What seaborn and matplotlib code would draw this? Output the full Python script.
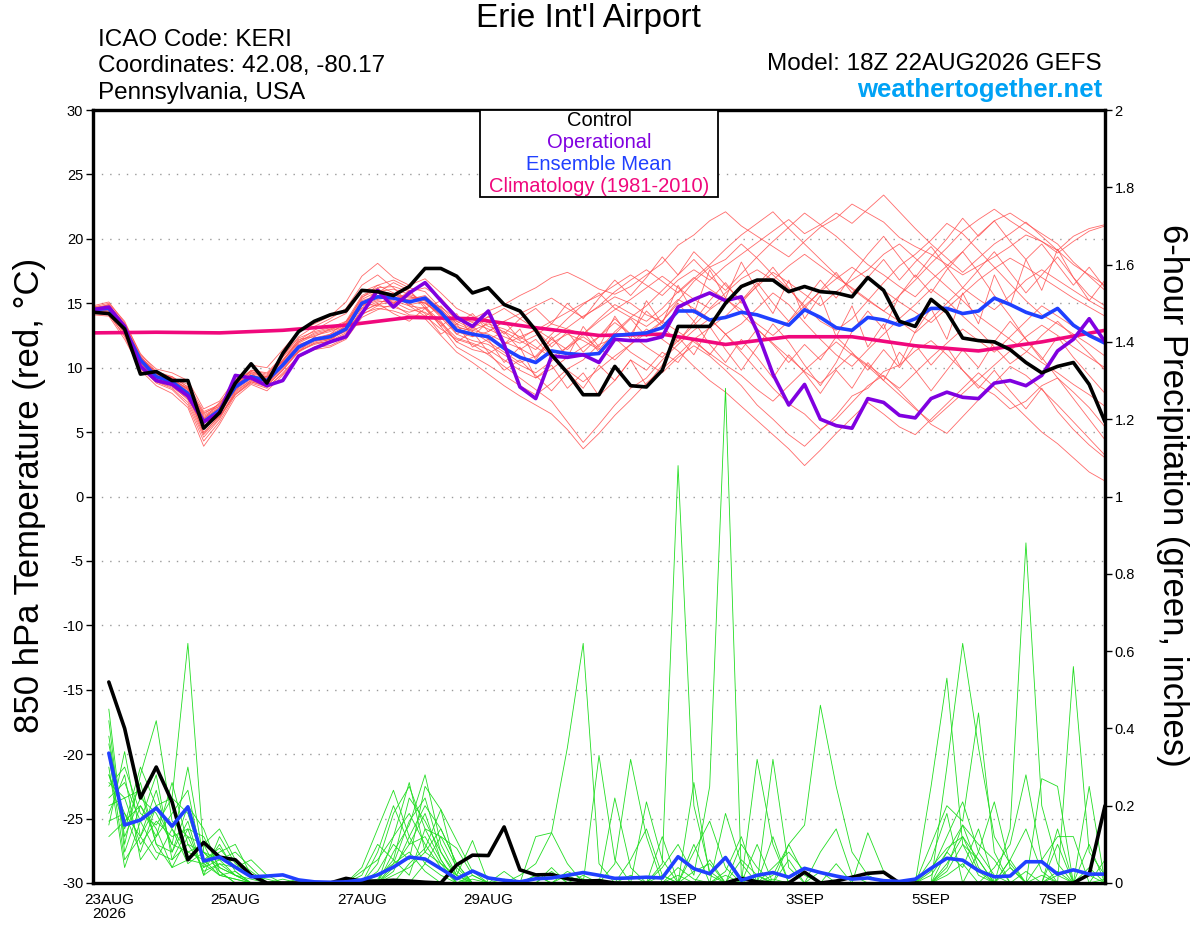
import numpy as np
import pandas as pd
import matplotlib
matplotlib.use("Agg")
import matplotlib.pyplot as plt
from matplotlib.patches import Rectangle
import seaborn as sns

# forecast hours from 18Z 22AUG2026, 6-hourly
temp_hours = np.arange(0, 385, 6)
precip_hours = np.arange(6, 385, 6)

control_temp = [14.3, 14.2, 13.0, 9.5, 9.7, 9.0, 9.0, 5.3, 6.5, 8.8, 10.3, 8.8, 11.1,
                12.8, 13.6, 14.1, 14.4, 16.0, 15.9, 15.6, 16.3, 17.7, 17.7, 17.1, 15.8, 16.2,
                14.9, 14.4, 12.9, 11.0, 9.6, 7.9, 7.9, 10.1, 8.6, 8.5, 9.8, 13.2, 13.2,
                13.2, 15.0, 16.3, 16.8, 16.8, 15.9, 16.3, 15.9, 15.8, 15.5, 17.0, 16.0, 13.6,
                13.2, 15.3, 14.3, 12.3, 12.1, 12.0, 11.4, 10.4, 9.6, 10.1, 10.4, 8.7, 5.8]

oper_temp = [14.5, 14.7, 13.2, 10.1, 9.0, 8.7, 7.8, 5.8, 6.5, 9.4, 9.2, 8.6, 9.0,
             10.9, 11.5, 12.0, 12.4, 14.2, 16.0, 14.7, 15.8, 16.6, 15.2, 13.9, 13.2, 14.4,
             11.8, 8.5, 7.6, 10.9, 10.8, 11.0, 10.4, 12.2, 12.1, 12.1, 12.4, 14.7, 15.3,
             15.8, 15.2, 15.5, 12.8, 9.5, 7.1, 8.7, 6.0, 5.5, 5.3, 7.6, 7.3, 6.3,
             6.1, 7.6, 8.1, 7.7, 7.6, 8.8, 9.0, 8.6, 9.4, 11.3, 12.2, 13.8, 12.0]

mean_temp = [14.5, 14.6, 13.0, 10.6, 9.3, 8.9, 8.0, 5.8, 6.7, 8.5, 9.3, 9.0, 10.2,
             11.6, 12.2, 12.4, 13.0, 15.0, 15.5, 15.4, 15.1, 15.4, 14.3, 12.9, 12.6, 12.4,
             11.5, 10.8, 10.4, 11.3, 11.1, 11.0, 11.1, 12.5, 12.6, 12.7, 13.1, 14.4, 14.4,
             13.7, 13.9, 14.3, 14.1, 13.7, 13.3, 14.5, 13.9, 13.1, 12.9, 13.9, 13.7, 13.3,
             13.8, 14.6, 14.6, 14.2, 14.4, 15.4, 14.9, 14.3, 13.9, 14.6, 13.3, 12.5, 11.9]

# daily climatology (18Z)
clim_hours = np.arange(0, 385, 24)
clim_temp = [12.7, 12.75, 12.7, 12.9, 13.3, 13.9, 13.8, 13.1, 12.5, 12.6, 11.8,
             12.4, 12.4, 11.7, 11.3, 12.0, 12.9]

member_temp = [
    [14.6, 14.9, 13.4, 10.9, 9.6, 9.2, 8.7, 6.6, 7.1, 8.9, 9.8, 9.5, 10.8,
     12.1, 12.9, 13.6, 14.2, 15.9, 16.4, 15.8, 15.2, 15.0, 14.1, 13.6, 13.8, 14.4,
     14.9, 15.6, 16.2, 17.0, 17.4, 16.8, 16.1, 15.7, 16.3, 17.2, 18.1, 19.5, 20.3,
     21.4, 22.1, 21.0, 20.2, 19.4, 18.6, 19.8, 20.9, 21.6, 22.7, 22.0, 21.3, 20.1,
     19.4, 18.8, 18.0, 17.2, 17.9, 18.6, 19.4, 20.3, 19.8, 19.1, 20.2, 20.8, 21.1],
    [14.2, 14.4, 12.6, 10.2, 8.9, 8.4, 7.3, 4.6, 6.0, 8.1, 9.0, 8.6, 9.8,
     11.2, 11.9, 12.0, 12.6, 14.6, 15.1, 15.2, 14.8, 14.6, 13.2, 11.6, 10.9, 10.2,
     9.4, 8.6, 7.9, 8.8, 9.9, 10.6, 11.8, 12.3, 11.2, 10.4, 9.6, 10.8, 11.7,
     10.9, 9.8, 8.6, 7.1, 6.0, 4.8, 3.9, 5.1, 6.3, 7.8, 8.4, 9.7, 10.2,
     11.3, 12.1, 11.0, 9.8, 8.6, 7.9, 6.8, 7.4, 8.6, 9.2, 8.1, 6.9, 5.4],
    [14.4, 14.7, 13.1, 10.6, 9.4, 9.1, 8.4, 6.2, 6.9, 8.6, 9.6, 9.3, 10.6,
     12.0, 12.6, 12.9, 13.5, 15.4, 16.4, 16.8, 16.2, 15.9, 14.6, 13.2, 12.8, 12.0,
     11.2, 10.4, 10.9, 12.2, 13.1, 14.0, 14.7, 15.5, 15.0, 14.1, 13.6, 15.2, 16.7,
     17.8, 18.4, 19.6, 18.5, 17.2, 16.1, 14.8, 13.6, 12.9, 13.8, 15.2, 16.6, 17.9,
     18.8, 19.9, 21.2, 20.4, 19.1, 17.8, 16.5, 15.2, 14.1, 13.4, 12.6, 11.8, 10.9],
    [14.3, 14.2, 12.4, 9.8, 8.6, 8.0, 6.9, 3.9, 5.6, 7.7, 8.7, 8.2, 9.4,
     10.8, 11.4, 11.6, 12.2, 13.9, 14.5, 14.9, 14.1, 14.0, 13.0, 12.2, 11.8, 11.0,
     10.1, 9.2, 8.3, 7.4, 5.8, 4.2, 5.6, 7.1, 8.4, 9.2, 10.6, 11.8, 12.9,
     13.8, 12.6, 11.2, 9.8, 8.4, 7.2, 6.4, 5.2, 6.0, 7.3, 8.6, 9.4, 8.2,
     6.9, 5.6, 4.9, 6.2, 7.5, 8.8, 10.1, 9.4, 8.3, 7.1, 5.8, 4.5, 3.2],
    [14.7, 15.0, 13.6, 11.0, 9.9, 9.6, 9.0, 6.8, 7.4, 9.1, 10.2, 10.0, 11.4,
     12.8, 13.4, 14.0, 15.1, 17.1, 18.1, 17.0, 16.4, 16.9, 15.8, 14.6, 14.0, 13.2,
     12.8, 12.1, 11.4, 12.6, 13.8, 14.9, 15.8, 14.6, 13.9, 14.8, 16.0, 17.2, 18.4,
     17.1, 16.0, 17.3, 18.6, 19.8, 20.9, 22.0, 21.1, 20.2, 19.1, 18.0, 17.2, 16.3,
     15.5, 16.8, 17.9, 19.0, 20.3, 21.4, 22.0, 21.2, 20.4, 19.6, 18.2, 17.1, 16.0],
    [14.5, 14.5, 12.9, 10.4, 9.0, 8.7, 7.8, 5.3, 6.4, 8.3, 9.1, 8.8, 10.0,
     11.4, 12.0, 12.3, 12.8, 14.8, 15.2, 15.0, 15.3, 15.6, 14.5, 13.4, 12.9, 12.6,
     12.0, 11.5, 10.8, 11.9, 12.6, 12.1, 11.4, 12.8, 13.9, 13.2, 14.1, 15.3, 14.6,
     13.8, 12.6, 13.4, 14.6, 15.8, 14.9, 13.5, 12.2, 11.0, 10.1, 11.4, 12.6, 13.8,
     14.9, 16.1, 15.2, 14.0, 12.9, 11.6, 10.3, 11.2, 12.5, 13.6, 12.4, 11.1, 9.8],
    [14.1, 14.0, 12.2, 9.9, 8.9, 8.5, 7.6, 5.5, 6.2, 7.9, 8.8, 8.4, 9.6,
     10.9, 11.6, 11.9, 12.4, 14.2, 14.6, 14.4, 14.0, 13.8, 12.5, 11.2, 10.4, 9.5,
     8.6, 7.8, 7.1, 6.4, 5.2, 3.7, 4.9, 6.3, 7.5, 8.8, 9.9, 11.0, 12.2,
     13.1, 14.0, 15.2, 16.3, 17.4, 16.6, 15.7, 14.8, 15.9, 16.8, 17.6, 18.8, 19.6,
     18.5, 17.4, 16.3, 15.2, 14.0, 13.1, 12.2, 11.3, 10.4, 9.6, 8.7, 7.9, 7.0],
    [14.6, 14.8, 13.3, 10.8, 9.5, 9.0, 8.1, 6.0, 6.9, 8.7, 9.5, 9.3, 10.5,
     11.9, 12.5, 12.8, 13.3, 15.3, 15.9, 16.1, 15.7, 15.2, 14.0, 12.8, 12.4, 12.8,
     13.6, 14.2, 14.8, 15.4, 14.6, 13.9, 14.8, 15.9, 16.8, 17.6, 16.7, 15.8, 16.9,
     18.0, 19.2, 20.3, 21.2, 22.1, 20.8, 19.6, 18.4, 17.2, 16.1, 15.2, 14.4, 15.6,
     16.8, 18.1, 19.3, 20.6, 21.5, 22.3, 21.4, 20.6, 19.8, 18.9, 19.8, 20.6, 21.0],
    [14.4, 14.3, 12.8, 10.5, 9.2, 8.8, 7.9, 5.9, 6.6, 8.4, 9.2, 8.9, 10.1,
     11.5, 12.1, 12.2, 12.9, 14.9, 15.3, 15.5, 14.9, 15.1, 13.9, 12.6, 12.1, 11.8,
     11.0, 10.2, 9.6, 10.5, 11.6, 12.4, 11.5, 10.6, 11.8, 13.0, 12.2, 11.3, 10.1,
     9.0, 8.1, 7.0, 5.9, 4.8, 3.7, 2.4, 3.6, 4.9, 6.1, 7.3, 6.4, 5.4,
     4.8, 6.0, 7.2, 8.4, 9.6, 8.5, 7.4, 6.2, 5.0, 4.1, 3.0, 1.9, 1.2],
    [14.5, 14.6, 13.0, 10.7, 9.4, 9.0, 8.2, 6.1, 6.8, 8.6, 9.4, 9.1, 10.3,
     11.7, 12.3, 12.6, 13.2, 15.2, 15.6, 15.6, 15.4, 15.5, 14.4, 13.1, 12.9, 13.4,
     13.0, 12.4, 12.9, 13.6, 14.3, 15.0, 15.6, 16.4, 17.2, 16.4, 15.6, 16.8, 17.6,
     16.8, 17.9, 18.8, 19.7, 20.6, 21.5, 20.4, 21.1, 22.0, 21.2, 22.3, 23.4, 22.1,
     20.8, 19.6, 18.5, 17.4, 18.5, 19.6, 20.4, 21.3, 20.2, 19.1, 18.0, 17.2, 16.4],
    [14.3, 14.5, 12.9, 10.6, 9.1, 8.6, 7.5, 4.8, 6.1, 8.2, 9.0, 8.7, 9.9,
     11.3, 11.8, 12.1, 12.7, 14.4, 14.9, 15.1, 14.5, 14.3, 13.5, 12.3, 11.9, 11.4,
     10.6, 9.8, 9.2, 9.9, 10.8, 11.6, 12.4, 13.5, 12.6, 11.6, 10.8, 12.1, 13.3,
     14.5, 15.4, 14.2, 13.0, 11.9, 10.8, 9.7, 8.8, 9.9, 11.1, 10.2, 9.3, 8.4,
     9.6, 10.8, 11.9, 13.0, 12.1, 11.2, 12.4, 13.6, 14.8, 14.0, 13.2, 12.6, 12.1],
    [14.8, 15.1, 13.5, 11.1, 9.7, 9.3, 8.5, 6.4, 7.2, 8.8, 9.7, 9.4, 10.9,
     12.3, 12.8, 13.1, 13.6, 15.6, 16.2, 16.3, 15.9, 16.2, 15.4, 14.0, 13.5, 13.0,
     12.4, 11.9, 12.5, 13.4, 13.0, 12.6, 13.8, 14.9, 14.2, 13.6, 14.6, 15.9, 17.0,
     16.1, 15.3, 14.5, 13.4, 12.5, 13.6, 14.8, 15.9, 16.9, 17.8, 16.9, 16.0, 15.1,
     14.3, 13.5, 14.6, 15.7, 16.8, 17.7, 18.5, 17.8, 17.0, 16.2, 15.4, 14.7, 14.0],
    [14.2, 14.1, 12.5, 10.1, 8.8, 8.3, 7.1, 4.3, 5.8, 7.9, 8.9, 8.5, 9.5,
     10.9, 11.6, 11.7, 12.3, 14.1, 14.8, 14.7, 14.3, 14.7, 13.6, 12.0, 11.4, 11.1,
     11.8, 12.4, 11.6, 10.8, 9.8, 8.9, 9.9, 10.9, 11.8, 12.7, 13.6, 12.8, 12.0,
     11.1, 10.2, 9.4, 8.3, 7.4, 8.6, 9.8, 10.9, 12.0, 11.0, 10.1, 9.0, 7.9,
     6.8, 5.8, 6.9, 8.0, 9.1, 10.2, 11.3, 12.4, 13.3, 12.5, 11.6, 10.8, 10.0],
    [14.6, 14.7, 13.2, 10.8, 9.6, 9.2, 8.3, 6.3, 7.0, 8.8, 9.7, 9.2, 10.6,
     12.0, 12.7, 13.0, 13.4, 15.5, 16.0, 15.7, 15.5, 15.2, 14.7, 13.8, 13.6, 13.9,
     14.6, 13.8, 13.0, 12.2, 11.4, 12.6, 13.6, 14.5, 15.3, 16.2, 17.1, 16.2, 15.3,
     14.6, 15.8, 16.9, 17.6, 16.8, 17.9, 18.8, 17.9, 17.0, 16.2, 15.3, 14.4, 13.6,
     12.7, 13.8, 15.0, 16.2, 15.3, 14.5, 15.6, 16.8, 17.6, 16.8, 16.0, 15.2, 14.5],
    [14.4, 14.6, 13.0, 10.4, 9.1, 8.6, 8.0, 5.6, 6.8, 8.2, 9.6, 8.6, 10.4,
     11.2, 12.4, 12.0, 13.4, 14.6, 16.2, 15.0, 16.0, 14.8, 13.2, 14.2, 12.4, 13.6,
     11.8, 13.0, 10.6, 12.4, 10.8, 13.2, 11.6, 14.0, 12.2, 15.2, 13.4, 16.4, 14.2,
     17.6, 15.4, 18.2, 16.0, 14.2, 16.8, 13.8, 15.6, 12.4, 14.8, 11.6, 13.4, 10.2,
     12.8, 14.6, 12.2, 15.8, 13.4, 17.2, 14.8, 18.4, 16.0, 19.2, 17.0, 15.2, 16.8],
    [14.7, 14.8, 13.2, 10.9, 9.5, 9.3, 8.5, 6.0, 7.3, 8.6, 9.8, 9.6, 10.9,
     12.4, 13.2, 13.8, 14.6, 16.4, 17.2, 16.2, 15.0, 14.2, 12.6, 13.4, 11.6, 12.2,
     10.4, 11.6, 9.2, 10.2, 8.4, 9.6, 7.8, 9.0, 10.6, 8.6, 10.2, 12.4, 11.0,
     13.2, 11.4, 9.8, 11.6, 13.4, 12.0, 10.2, 8.6, 10.4, 12.8, 14.4, 13.0, 15.6,
     17.2, 15.8, 17.6, 19.0, 17.4, 15.6, 14.0, 12.2, 10.8, 9.2, 7.6, 6.0, 4.4],
    [14.3, 14.6, 12.8, 10.3, 9.0, 8.8, 8.0, 4.9, 6.3, 8.4, 9.3, 8.9, 10.1,
     11.6, 12.1, 12.6, 13.6, 15.0, 14.8, 15.8, 14.8, 14.0, 14.8, 13.4, 14.2, 12.8,
     13.6, 12.2, 13.0, 11.6, 12.8, 11.2, 12.4, 13.8, 12.6, 14.4, 13.2, 12.0, 13.6,
     11.8, 10.4, 12.2, 10.8, 9.2, 11.0, 9.6, 8.0, 9.8, 8.4, 10.4, 9.0, 11.2,
     9.8, 8.2, 9.8, 11.4, 10.0, 12.0, 13.6, 12.2, 10.6, 12.4, 10.8, 9.4, 8.0],
    [14.5, 14.9, 13.3, 10.7, 9.6, 9.0, 8.4, 6.5, 7.0, 8.7, 9.4, 9.2, 10.5,
     12.2, 12.4, 13.0, 13.0, 14.8, 15.8, 16.6, 16.0, 14.6, 15.2, 13.6, 13.0, 14.0,
     12.6, 13.8, 14.6, 13.4, 15.0, 13.8, 15.4, 16.8, 15.6, 17.0, 18.6, 17.2, 19.0,
     17.8, 16.4, 15.2, 16.6, 15.0, 13.6, 15.2, 16.8, 15.4, 17.2, 18.8, 20.2, 18.6,
     17.0, 18.6, 20.0, 21.6, 20.2, 21.4, 19.8, 18.4, 19.6, 18.0, 16.4, 17.8, 16.2],
    [14.2, 14.3, 12.7, 10.3, 9.3, 8.7, 7.7, 5.0, 6.2, 8.0, 8.9, 8.6, 9.8,
     11.3, 11.9, 12.2, 12.9, 14.3, 15.0, 14.2, 13.6, 14.6, 13.4, 12.0, 12.8, 11.2,
     9.8, 10.6, 9.4, 8.2, 9.6, 8.4, 10.2, 9.0, 10.6, 9.8, 11.2, 10.4, 12.2,
     11.0, 12.6, 11.4, 13.0, 11.8, 10.4, 11.8, 10.6, 12.4, 11.2, 9.8, 11.4, 10.0,
     11.8, 10.2, 11.6, 9.8, 8.4, 9.8, 8.2, 6.8, 8.4, 6.6, 5.2, 4.0, 3.0],
    [14.6, 14.4, 12.9, 10.5, 9.2, 9.0, 8.3, 5.7, 6.6, 8.5, 9.3, 9.0, 10.4,
     11.8, 12.2, 12.5, 13.1, 15.1, 15.4, 15.3, 15.6, 15.0, 14.2, 12.6, 13.2, 12.2,
     12.8, 11.4, 12.2, 10.8, 11.6, 12.8, 11.2, 12.6, 13.8, 12.4, 13.6, 15.0, 13.6,
     15.2, 16.6, 15.0, 16.4, 17.8, 16.2, 14.6, 16.0, 17.4, 15.8, 17.0, 18.4, 16.8,
     18.2, 19.4, 17.8, 16.2, 17.6, 19.0, 17.4, 15.8, 17.2, 18.6, 17.0, 15.6, 14.8],
]

control_precip = [0.52, 0.40, 0.22, 0.30, 0.21, 0.06, 0.105, 0.067, 0.06, 0.02, 0.0, 0.0, 0.0, 0.0, 0.0, 0.012,
                  0.005, 0.005, 0.007, 0.005, 0.002, 0.0, 0.047, 0.072, 0.071, 0.145, 0.034, 0.021, 0.022, 0.011, 0.005, 0.006,
                  0.0, 0.0, 0.0, 0.0, 0.0, 0.0, 0.0, 0.0, 0.012, 0.003, 0.0, 0.0, 0.028, 0.0, 0.005, 0.015,
                  0.025, 0.028, 0.0, 0.0, 0.0, 0.0, 0.0, 0.0, 0.0, 0.0, 0.0, 0.0, 0.0, 0.0, 0.022, 0.20]

mean_precip = [0.336, 0.15, 0.163, 0.194, 0.147, 0.197, 0.057, 0.067, 0.041, 0.016, 0.018, 0.021, 0.008, 0.003, 0.002, 0.003,
               0.008, 0.021, 0.041, 0.067, 0.062, 0.037, 0.011, 0.031, 0.013, 0.007, 0.003, 0.011, 0.013, 0.02, 0.027, 0.02,
               0.012, 0.013, 0.015, 0.013, 0.068, 0.037, 0.024, 0.066, 0.007, 0.02, 0.027, 0.015, 0.038, 0.027, 0.018, 0.01,
               0.013, 0.006, 0.004, 0.01, 0.038, 0.064, 0.059, 0.032, 0.016, 0.018, 0.055, 0.055, 0.023, 0.034, 0.023, 0.023]

member_precip = [
    [0.38, 0.12, 0.22, 0.18, 0.10, 0.30, 0.06, 0.09, 0.04, 0.02, 0.01, 0.0, 0.0, 0.0, 0.0, 0.0,
     0.0, 0.02, 0.05, 0.08, 0.03, 0.0, 0.0, 0.01, 0.0, 0.0, 0.0, 0.02, 0.0, 0.0, 0.0, 0.01,
     0.0, 0.0, 0.0, 0.04, 0.10, 0.02, 0.25, 1.28, 0.02, 0.0, 0.01, 0.0, 0.0, 0.0, 0.0, 0.0,
     0.0, 0.0, 0.0, 0.0, 0.0, 0.02, 0.05, 0.0, 0.0, 0.0, 0.03, 0.0, 0.0, 0.0, 0.0, 0.01],
    [0.45, 0.10, 0.28, 0.42, 0.16, 0.12, 0.03, 0.05, 0.02, 0.0, 0.0, 0.01, 0.0, 0.0, 0.0, 0.0,
     0.03, 0.06, 0.12, 0.18, 0.10, 0.04, 0.0, 0.02, 0.0, 0.0, 0.0, 0.0, 0.0, 0.03, 0.01, 0.0,
     0.0, 0.02, 0.0, 0.05, 1.08, 0.20, 0.03, 0.0, 0.0, 0.02, 0.0, 0.0, 0.0, 0.03, 0.0, 0.0,
     0.0, 0.0, 0.0, 0.0, 0.02, 0.08, 0.15, 0.04, 0.0, 0.0, 0.0, 0.02, 0.0, 0.0, 0.04, 0.0],
    [0.28, 0.18, 0.12, 0.20, 0.22, 0.62, 0.08, 0.04, 0.02, 0.0, 0.0, 0.0, 0.0, 0.0, 0.0, 0.0,
     0.0, 0.0, 0.04, 0.10, 0.12, 0.05, 0.0, 0.0, 0.0, 0.0, 0.02, 0.05, 0.13, 0.35, 0.62, 0.05,
     0.0, 0.0, 0.0, 0.0, 0.02, 0.0, 0.0, 0.0, 0.0, 0.0, 0.04, 0.08, 0.03, 0.0, 0.0, 0.0,
     0.0, 0.0, 0.0, 0.0, 0.0, 0.03, 0.10, 0.06, 0.0, 0.0, 0.0, 0.0, 0.02, 0.0, 0.0, 0.0],
    [0.36, 0.15, 0.30, 0.20, 0.14, 0.08, 0.10, 0.14, 0.06, 0.03, 0.0, 0.0, 0.0, 0.0, 0.0, 0.0,
     0.0, 0.05, 0.18, 0.25, 0.14, 0.06, 0.0, 0.0, 0.0, 0.01, 0.0, 0.0, 0.03, 0.0, 0.0, 0.0,
     0.0, 0.0, 0.0, 0.0, 0.04, 0.01, 0.0, 0.0, 0.06, 0.02, 0.0, 0.0, 0.0, 0.0, 0.0, 0.0,
     0.0, 0.0, 0.0, 0.0, 0.0, 0.05, 0.12, 0.06, 0.0, 0.14, 0.88, 0.20, 0.05, 0.0, 0.02, 0.0],
    [0.25, 0.30, 0.18, 0.15, 0.22, 0.18, 0.05, 0.08, 0.10, 0.02, 0.0, 0.0, 0.01, 0.0, 0.0, 0.0,
     0.0, 0.0, 0.08, 0.15, 0.28, 0.10, 0.02, 0.0, 0.0, 0.0, 0.0, 0.0, 0.0, 0.0, 0.02, 0.0,
     0.05, 0.32, 0.12, 0.0, 0.0, 0.0, 0.0, 0.03, 0.12, 0.0, 0.0, 0.0, 0.0, 0.0, 0.0, 0.0,
     0.0, 0.0, 0.0, 0.0, 0.0, 0.30, 0.62, 0.35, 0.12, 0.05, 0.0, 0.0, 0.0, 0.0, 0.0, 0.0],
    [0.42, 0.08, 0.20, 0.12, 0.18, 0.24, 0.04, 0.06, 0.08, 0.04, 0.0, 0.0, 0.0, 0.0, 0.0, 0.0,
     0.02, 0.10, 0.06, 0.22, 0.16, 0.08, 0.01, 0.0, 0.0, 0.0, 0.0, 0.0, 0.0, 0.0, 0.0, 0.33,
     0.06, 0.0, 0.0, 0.0, 0.0, 0.0, 0.0, 0.02, 0.0, 0.10, 0.0, 0.0, 0.0, 0.0, 0.0, 0.0,
     0.0, 0.0, 0.0, 0.0, 0.25, 0.53, 0.10, 0.02, 0.0, 0.0, 0.0, 0.0, 0.0, 0.56, 0.08, 0.02],
    [0.20, 0.22, 0.10, 0.16, 0.12, 0.14, 0.12, 0.04, 0.02, 0.01, 0.0, 0.0, 0.0, 0.0, 0.0, 0.0,
     0.0, 0.0, 0.03, 0.12, 0.20, 0.14, 0.05, 0.0, 0.0, 0.0, 0.0, 0.0, 0.0, 0.0, 0.0, 0.0,
     0.0, 0.0, 0.0, 0.0, 0.0, 0.0, 0.0, 0.0, 0.0, 0.0, 0.02, 0.10, 0.15, 0.46, 0.25, 0.08,
     0.02, 0.0, 0.0, 0.0, 0.0, 0.0, 0.0, 0.08, 0.21, 0.04, 0.0, 0.0, 0.0, 0.0, 0.0, 0.0],
    [0.28, 0.14, 0.26, 0.10, 0.08, 0.16, 0.02, 0.12, 0.05, 0.02, 0.0, 0.0, 0.0, 0.0, 0.0, 0.0,
     0.0, 0.03, 0.10, 0.06, 0.25, 0.19, 0.03, 0.0, 0.0, 0.0, 0.0, 0.0, 0.0, 0.0, 0.0, 0.0,
     0.0, 0.0, 0.0, 0.02, 0.0, 0.0, 0.0, 0.0, 0.0, 0.32, 0.10, 0.0, 0.0, 0.0, 0.0, 0.0,
     0.0, 0.0, 0.0, 0.0, 0.0, 0.0, 0.0, 0.0, 0.04, 0.10, 0.28, 0.06, 0.0, 0.0, 0.0, 0.0],
    [0.16, 0.18, 0.08, 0.20, 0.10, 0.08, 0.06, 0.02, 0.03, 0.0, 0.0, 0.0, 0.0, 0.0, 0.0, 0.0,
     0.0, 0.0, 0.0, 0.05, 0.09, 0.19, 0.11, 0.03, 0.0, 0.0, 0.0, 0.0, 0.0, 0.0, 0.0, 0.0,
     0.0, 0.0, 0.0, 0.0, 0.0, 0.26, 0.02, 0.0, 0.0, 0.0, 0.32, 0.04, 0.0, 0.0, 0.0, 0.0,
     0.13, 0.03, 0.0, 0.0, 0.0, 0.0, 0.0, 0.0, 0.0, 0.0, 0.0, 0.27, 0.25, 0.0, 0.25, 0.0],
    [0.22, 0.26, 0.16, 0.08, 0.06, 0.10, 0.08, 0.06, 0.02, 0.0, 0.0, 0.0, 0.0, 0.0, 0.0, 0.0,
     0.0, 0.0, 0.02, 0.04, 0.08, 0.05, 0.02, 0.11, 0.0, 0.0, 0.0, 0.12, 0.13, 0.05, 0.0, 0.0,
     0.0, 0.0, 0.21, 0.06, 0.0, 0.0, 0.0, 0.0, 0.0, 0.0, 0.0, 0.0, 0.0, 0.0, 0.05, 0.0,
     0.0, 0.0, 0.0, 0.0, 0.0, 0.0, 0.0, 0.0, 0.0, 0.06, 0.0, 0.0, 0.10, 0.0, 0.0, 0.06],
    [0.33, 0.06, 0.12, 0.24, 0.08, 0.20, 0.14, 0.03, 0.0, 0.0, 0.0, 0.0, 0.0, 0.0, 0.0, 0.0,
     0.0, 0.01, 0.06, 0.02, 0.14, 0.12, 0.04, 0.0, 0.0, 0.0, 0.0, 0.02, 0.0, 0.0, 0.0, 0.0,
     0.0, 0.0, 0.0, 0.0, 0.0, 0.0, 0.0, 0.0, 0.0, 0.0, 0.0, 0.0, 0.0, 0.0, 0.0, 0.0,
     0.0, 0.0, 0.0, 0.0, 0.10, 0.20, 0.16, 0.44, 0.08, 0.0, 0.0, 0.0, 0.0, 0.0, 0.0, 0.0],
    [0.12, 0.16, 0.20, 0.14, 0.04, 0.12, 0.10, 0.02, 0.01, 0.0, 0.0, 0.0, 0.0, 0.0, 0.0, 0.0,
     0.0, 0.0, 0.0, 0.0, 0.05, 0.12, 0.09, 0.02, 0.0, 0.0, 0.0, 0.0, 0.0, 0.02, 0.0, 0.0,
     0.0, 0.0, 0.0, 0.0, 0.0, 0.03, 0.05, 0.0, 0.0, 0.0, 0.0, 0.0, 0.0, 0.0, 0.0, 0.0,
     0.0, 0.0, 0.0, 0.0, 0.04, 0.09, 0.12, 0.03, 0.0, 0.0, 0.0, 0.06, 0.12, 0.12, 0.0, 0.0],
    [0.18, 0.28, 0.06, 0.12, 0.26, 0.10, 0.04, 0.10, 0.03, 0.0, 0.0, 0.0, 0.0, 0.0, 0.0, 0.0,
     0.0, 0.08, 0.20, 0.10, 0.18, 0.06, 0.0, 0.0, 0.0, 0.0, 0.0, 0.0, 0.0, 0.0, 0.0, 0.0,
     0.0, 0.06, 0.14, 0.02, 0.0, 0.08, 0.16, 0.04, 0.0, 0.0, 0.12, 0.0, 0.0, 0.08, 0.14, 0.02,
     0.0, 0.0, 0.0, 0.0, 0.03, 0.12, 0.21, 0.08, 0.02, 0.0, 0.0, 0.0, 0.0, 0.0, 0.0, 0.0],
    [0.30, 0.04, 0.16, 0.28, 0.06, 0.14, 0.02, 0.05, 0.04, 0.06, 0.02, 0.0, 0.0, 0.0, 0.0, 0.0,
     0.0, 0.0, 0.12, 0.26, 0.08, 0.14, 0.05, 0.0, 0.0, 0.0, 0.0, 0.0, 0.04, 0.0, 0.0, 0.0,
     0.22, 0.04, 0.0, 0.0, 0.0, 0.10, 0.0, 0.18, 0.05, 0.0, 0.0, 0.0, 0.0, 0.0, 0.0, 0.0,
     0.0, 0.0, 0.0, 0.0, 0.0, 0.08, 0.04, 0.14, 0.0, 0.06, 0.14, 0.03, 0.0, 0.0, 0.10, 0.0],
    [0.15, 0.34, 0.12, 0.06, 0.14, 0.05, 0.08, 0.03, 0.0, 0.0, 0.0, 0.0, 0.0, 0.0, 0.0, 0.0,
     0.04, 0.14, 0.24, 0.12, 0.05, 0.02, 0.0, 0.0, 0.0, 0.0, 0.0, 0.0, 0.0, 0.0, 0.0, 0.0,
     0.0, 0.0, 0.0, 0.12, 0.0, 0.0, 0.06, 0.0, 0.0, 0.0, 0.0, 0.10, 0.02, 0.0, 0.0, 0.0,
     0.0, 0.0, 0.0, 0.0, 0.06, 0.18, 0.0, 0.0, 0.0, 0.04, 0.0, 0.0, 0.14, 0.0, 0.0, 0.0],
    [0.26, 0.22, 0.24, 0.10, 0.04, 0.06, 0.05, 0.02, 0.01, 0.0, 0.0, 0.0, 0.0, 0.0, 0.0, 0.0,
     0.0, 0.0, 0.05, 0.16, 0.22, 0.08, 0.02, 0.0, 0.0, 0.03, 0.0, 0.0, 0.0, 0.0, 0.0, 0.0,
     0.0, 0.0, 0.0, 0.0, 0.0, 0.0, 0.0, 0.0, 0.10, 0.04, 0.0, 0.06, 0.0, 0.0, 0.0, 0.0,
     0.0, 0.0, 0.0, 0.0, 0.0, 0.04, 0.15, 0.10, 0.06, 0.0, 0.0, 0.0, 0.03, 0.0, 0.0, 0.0],
]

tick_hours = [6, 54, 102, 150, 222, 270, 318, 366]
tick_labels = ['23AUG\n2026', '25AUG', '27AUG', '29AUG', '1SEP', '3SEP', '5SEP', '7SEP']

assert all(len(r) == len(temp_hours) for r in member_temp)
assert all(len(r) == len(precip_hours) for r in member_precip)

RED = '#ff5050'
GREEN = '#22dd22'
PURPLE = '#8000e0'
BLUE = '#2040ff'
PINK = '#f0087c'

sns.set_style("white")
plt.rcParams['font.family'] = ['Liberation Sans', 'DejaVu Sans']
plt.rcParams['axes.unicode_minus'] = False
plt.rcParams['text.color'] = 'black'
plt.rcParams['xtick.color'] = 'black'
plt.rcParams['ytick.color'] = 'black'

# long tables for seaborn
temp_members = pd.DataFrame([
    {'hour': h, 'temp': v, 'member': m}
    for m, row in enumerate(member_temp) for h, v in zip(temp_hours, row)
])
precip_members = pd.DataFrame([
    {'hour': h, 'precip': v, 'member': m}
    for m, row in enumerate(member_precip) for h, v in zip(precip_hours, row)
])

fig = plt.figure(figsize=(12, 9.27), dpi=100)
ax = fig.add_axes([93 / 1200, 44 / 927, 1012 / 1200, 773 / 927])
ax2 = ax.twinx()

sns.lineplot(data=temp_members, x='hour', y='temp', units='member', estimator=None,
             color=RED, lw=0.6, alpha=0.85, ax=ax)
sns.lineplot(x=clim_hours, y=clim_temp, color=PINK, lw=2.6, ax=ax)
sns.lineplot(x=temp_hours, y=mean_temp, color=BLUE, lw=2.6, ax=ax)
sns.lineplot(x=temp_hours, y=oper_temp, color=PURPLE, lw=2.6, ax=ax)
sns.lineplot(x=temp_hours, y=control_temp, color='black', lw=2.6, ax=ax)

sns.lineplot(data=precip_members, x='hour', y='precip', units='member', estimator=None,
             color=GREEN, lw=0.6, ax=ax2)
sns.lineplot(x=precip_hours, y=control_precip, color='black', lw=2.6, ax=ax2)
sns.lineplot(x=precip_hours, y=mean_precip, color=BLUE, lw=2.6, ax=ax2)

ax.set_xlim(0, 384)
ax.set_ylim(-30, 30)
ax2.set_ylim(0, 2)
ax.set_yticks(np.arange(-30, 31, 5))
ax.set_yticklabels([f"{v}" for v in range(-30, 31, 5)], fontsize=10.5)
ax2.set_yticks(np.arange(0, 2.01, 0.2))
ax2.set_yticklabels([f"{v:g}" for v in np.round(np.arange(0, 2.01, 0.2), 1)], fontsize=10.5)
ax.set_xticks(tick_hours)
ax.set_xticklabels(tick_labels, fontsize=11, linespacing=1.05)
ax.set_xlabel('')
ax.set_ylabel('')
ax2.set_ylabel('')

ax.yaxis.grid(True, linestyle=(0, (1, 5)), color='#999999', lw=1.0)
ax.set_axisbelow(True)
for a in (ax, ax2):
    for s in a.spines.values():
        s.set_linewidth(2.3)
        s.set_color('black')
ax.tick_params(axis='y', direction='out', length=5, width=1, pad=2, colors='black')
ax2.tick_params(axis='y', direction='out', length=5, width=1, pad=2, colors='black')
ax.tick_params(axis='x', direction='out', length=5, width=1, pad=2, colors='black')

# legend box
ax2.add_patch(Rectangle((0.3824, 0.8874), 0.2352, 0.1126, transform=ax2.transAxes,
                        facecolor='white', edgecolor='black', lw=1.3, zorder=10))
legend_items = [('Control', 'black'), ('Operational', PURPLE),
                ('Ensemble Mean', BLUE), ('Climatology (1981-2010)', PINK)]
for k, (lab, col) in enumerate(legend_items):
    ax2.text(0.5, 0.987 - k * 0.0285, lab, color=col, fontsize=14.5, ha='center', va='center',
             transform=ax2.transAxes, zorder=11)

# header text
fig.text(0.49, 0.980, "Erie Int'l Airport", fontsize=24, ha='center', va='center')
fig.text(0.0817, 0.9569, "ICAO Code: KERI", fontsize=17.5, ha='left', va='center')
fig.text(0.0817, 0.9288, "Coordinates: 42.08, -80.17", fontsize=17.5, ha='left', va='center')
fig.text(0.0817, 0.8997, "Pennsylvania, USA", fontsize=17.5, ha='left', va='center')
fig.text(0.9183, 0.931, "Model: 18Z 22AUG2026 GEFS", fontsize=17.5, ha='right', va='center')
fig.text(0.9183, 0.9029, "weathertogether.net", fontsize=18.5, ha='right', va='center',
         color='#00a2f5', fontweight='bold')

fig.text(0.025, 0.466, "850 hPa Temperature (red, \u00b0C)", fontsize=25, rotation=90,
         ha='center', va='center')
fig.text(0.977, 0.466, "6-hour Precipitation (green, inches)", fontsize=25, rotation=270,
         ha='center', va='center')

fig.savefig('out.png', dpi=100, facecolor='white')
